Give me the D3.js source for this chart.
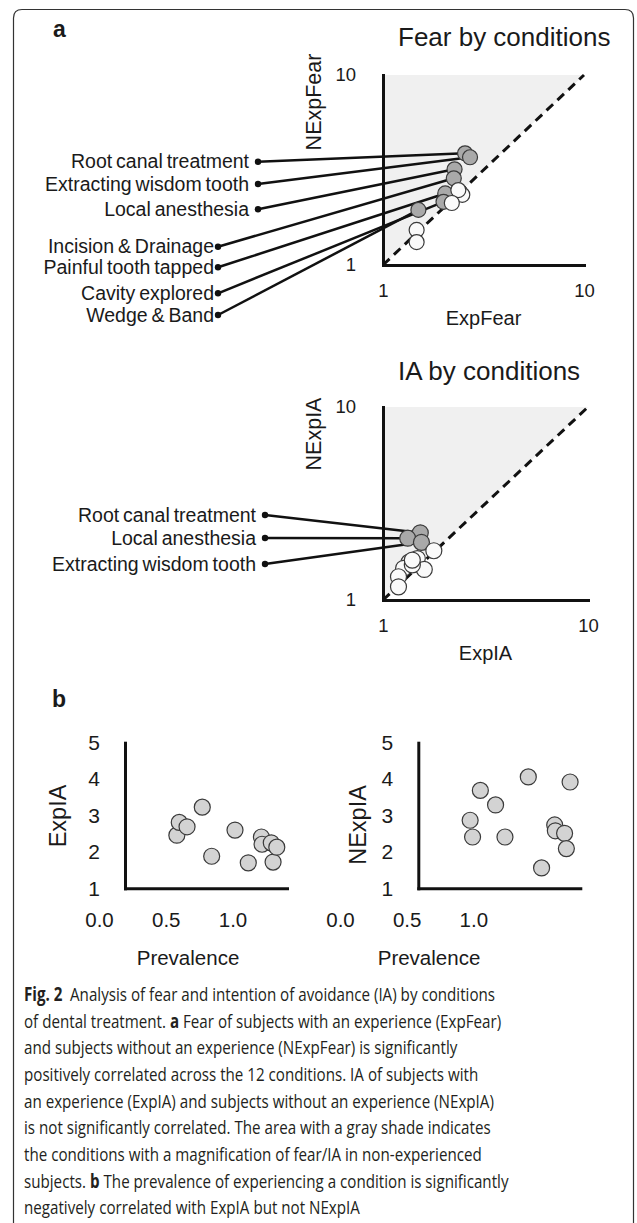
<!DOCTYPE html>
<html>
<head>
<meta charset="utf-8">
<script src="https://cdn.jsdelivr.net/npm/d3@7"></script>
<style>
  body { margin: 0; background: #fff; }
  svg text { font-family: "Liberation Sans", Arial, sans-serif; fill: #1a1a1a; }
  .caption text { font-family: "Open Sans", sans-serif; fill: #231f20; }
</style>
</head>
<body>
<svg id="fig" width="637" height="1223"></svg>
<script>
// --- data ---
// Fear by conditions: 12 conditions, the first 7 are the labelled (gray) ones
const fearLabels = ['Root canal treatment', 'Extracting wisdom tooth', 'Local anesthesia',
  'Incision & Drainage', 'Painful tooth tapped', 'Cavity explored', 'Wedge & Band'];
const expFear  = [2.56, 2.71, 2.27, 2.25, 2.04, 2.00, 1.50, 2.48, 2.37, 2.20, 1.47, 1.47];
const nexpFear = [3.87, 3.69, 3.19, 2.86, 2.38, 2.15, 1.95, 2.34, 2.48, 2.12, 1.53, 1.32];

// IA by conditions: first 3 are labelled (gray)
const iaLabels = ['Root canal treatment', 'Local anesthesia', 'Extracting wisdom tooth'];
const expIA  = [1.52, 1.32, 1.54, 1.77, 1.47, 1.34, 1.26, 1.59, 1.39, 1.39, 1.19, 1.19];
const nexpIA = [2.23, 2.09, 1.99, 1.80, 1.64, 1.57, 1.46, 1.44, 1.52, 1.61, 1.32, 1.17];

const logTicks = [1, 10];

// panel b: prevalence vs mean IA
const prevalence = [0.32, 0.335, 0.383, 0.477, 0.535, 0.679, 0.761, 0.842, 0.846, 0.903, 0.914, 0.937];
const expIAb  = [2.46, 2.81, 2.69, 3.23, 1.88, 2.60, 1.70, 2.41, 2.21, 2.25, 1.72, 2.13];
const nexpIAb = [2.87, 2.41, 3.69, 3.29, 2.41, 4.06, 1.56, 2.74, 2.58, 2.51, 2.09, 3.92];
const iaTicks = [1, 2, 3, 4, 5];
const prevTicks = [0, 0.5, 1];

const captionLines = [
  [['Fig. 2', true], ['\u2002Analysis of fear and intention of avoidance (IA) by conditions', false]],
  [['of dental treatment. ', false], ['a', true], [' Fear of subjects with an experience (ExpFear)', false]],
  [['and subjects without an experience (NExpFear) is significantly', false]],
  [['positively correlated across the 12 conditions. IA of subjects with', false]],
  [['an experience (ExpIA) and subjects without an experience (NExpIA)', false]],
  [['is not significantly correlated. The area with a gray shade indicates', false]],
  [['the conditions with a magnification of fear/IA in non-experienced', false]],
  [['subjects. ', false], ['b', true], [' The prevalence of experiencing a condition is significantly', false]],
  [['negatively correlated with ExpIA but not NExpIA', false]]
];

const svg = d3.select('#fig');
const ink = '#111';

// frame, open at the bottom
svg.append('path')
  .attr('d', 'M13.5,1223V18Q13.5,9.5 22,9.5H625Q633.5,9.5 633.5,18V1223')
  .attr('fill', 'none').attr('stroke', '#333').attr('stroke-width', 1.2);

svg.append('text').attr('x', 53).attr('y', 37).attr('font-size', 23).attr('font-weight', 'bold').text('a');
svg.append('text').attr('x', 52).attr('y', 707).attr('font-size', 23).attr('font-weight', 'bold').text('b');

function styleAxis(g, size) {
  g.select('.domain').attr('stroke', ink).attr('stroke-width', 3).attr('stroke-linecap', 'square');
  g.selectAll('text').attr('font-size', size).attr('fill', '#1a1a1a')
    .attr('font-family', '"Liberation Sans", Arial, sans-serif');
}

function logPanel(o) {
  const x = d3.scaleLog().domain([1, 10]).range([o.left, o.right]);
  const y = d3.scaleLog().domain([1, 10]).range([o.bottom, o.top]);
  const g = svg.append('g');

  // shaded half above the identity line
  g.append('path')
    .attr('d', d3.line()([[x(1), y(1)], [x(1), y(10)], [x(10), y(10)]]) + 'Z')
    .attr('fill', '#f0f0f0');
  g.append('line')
    .attr('x1', x(1)).attr('y1', y(1)).attr('x2', x(10)).attr('y2', y(10))
    .attr('stroke', ink).attr('stroke-width', 3).attr('stroke-dasharray', '9,6');

  g.append('g').attr('transform', `translate(0,${o.bottom})`)
    .call(d3.axisBottom(x).tickValues(logTicks).tickFormat(d3.format('d')).tickSize(0).tickPadding(19))
    .call(a => styleAxis(a, 18.5));
  g.append('g').attr('transform', `translate(${o.left},0)`)
    .call(d3.axisLeft(y).tickValues(logTicks).tickFormat(d3.format('d')).tickSize(0).tickPadding(27))
    .call(a => styleAxis(a, 18.5));

  g.append('text').attr('x', 398).attr('y', o.titleY).attr('font-size', 26).text(o.title);
  g.append('text').attr('x', (o.left + o.right) / 2).attr('y', o.bottom + 60)
    .attr('text-anchor', 'middle').attr('font-size', 20).text(o.xLabel);
  g.append('text').attr('transform', `translate(313,${o.top + 27}) rotate(-90)`)
    .attr('text-anchor', 'middle').attr('dy', '0.35em').attr('font-size', 21.5).text(o.yLabel);

  // leader lines from the condition names to the gray points
  o.labels.forEach((name, i) => {
    const d = o.dots[i];
    g.append('line')
      .attr('x1', d[0]).attr('y1', d[1]).attr('x2', x(o.xs[i])).attr('y2', y(o.ys[i]))
      .attr('stroke', ink).attr('stroke-width', 2.5);
    g.append('circle').attr('cx', d[0]).attr('cy', d[1]).attr('r', 3.2).attr('fill', ink);
    g.append('text').attr('x', d[0] - d[2]).attr('y', d[1]).attr('dy', '0.34em')
      .attr('text-anchor', 'end').attr('font-size', 19.5).attr('word-spacing', -1.5).text(name);
  });

  g.selectAll('.pt').data(o.xs.map((v, i) => [v, o.ys[i], i]))
    .join('circle')
    .attr('cx', d => x(d[0])).attr('cy', d => y(d[1])).attr('r', o.r)
    .attr('fill', d => d[2] < o.labels.length ? '#a9a9a9' : '#fafafa')
    .attr('stroke', '#3a3a3a').attr('stroke-width', 1.2);
}

logPanel({
  left: 383, right: 584, top: 75, bottom: 265, titleY: 46, r: 7.5,
  title: 'Fear by conditions', xLabel: 'ExpFear', yLabel: 'NExpFear',
  labels: fearLabels, xs: expFear, ys: nexpFear,
  // label anchor dot: x, y, gap to text
  dots: [[258, 161.7, 9], [258, 184, 9], [258, 209.3, 9],
         [218, 246.7, 4], [218, 267.3, 4], [218, 293.3, 4], [218, 315, 4]]
});

logPanel({
  left: 383, right: 588, top: 407, bottom: 600, titleY: 380, r: 8,
  title: 'IA by conditions', xLabel: 'ExpIA', yLabel: 'NExpIA',
  labels: iaLabels, xs: expIA, ys: nexpIA,
  dots: [[265, 515, 9], [265, 538, 9], [265, 564, 9]]
});

function prevPanel(o) {
  const x = d3.scaleLinear().domain([0, 1]).range([o.left, o.left + 162]);
  const y = d3.scaleLinear().domain([1, 5]).range([888.3, 742.7]);
  // the tick labels in the figure sit apart from the axis line
  const xl = d3.scaleLinear().domain([0, 1]).range(o.labelRange);
  const g = svg.append('g');

  g.append('g').attr('transform', 'translate(0,888.3)')
    .call(d3.axisBottom(x).tickValues([]).tickSize(0).tickSizeOuter(0))
    .call(a => styleAxis(a, 20));
  g.append('g').attr('transform', 'translate(0,888.3)')
    .call(d3.axisBottom(xl).tickValues(prevTicks).tickFormat(d3.format('.1f')).tickSize(0).tickPadding(24.5))
    .call(a => { a.select('.domain').remove(); styleAxis(a, 20.5); });
  g.append('g').attr('transform', `translate(${o.left},0)`)
    .call(d3.axisLeft(y).tickValues(iaTicks).tickFormat(d3.format('d')).tickSize(0).tickSizeOuter(0).tickPadding(25))
    .call(a => styleAxis(a, 21));

  g.append('text').attr('x', o.xLabelX).attr('y', 965).attr('text-anchor', 'middle')
    .attr('font-size', 20.5).text('Prevalence');
  g.append('text').attr('transform', `translate(${o.yLabelX},${o.yLabelY}) rotate(-90)`)
    .attr('text-anchor', 'middle').attr('dy', '0.35em').attr('font-size', 23.5).text(o.yLabel);

  g.selectAll('.pt').data(prevalence.map((p, i) => [p, o.ys[i]]))
    .join('circle')
    .attr('cx', d => x(d[0])).attr('cy', d => y(d[1])).attr('r', 8)
    .attr('fill', '#d3d3d3').attr('stroke', '#3a3a3a').attr('stroke-width', 1.2);
}

prevPanel({ left: 125, labelRange: [99, 232.5], xLabelX: 188, yLabelX: 58, yLabelY: 816, yLabel: 'ExpIA', ys: expIAb });
prevPanel({ left: 418.3, labelRange: [340, 473.3], xLabelX: 429, yLabelX: 358, yLabelY: 825, yLabel: 'NExpIA', ys: nexpIAb });

// caption, squeezed horizontally to the narrow face used in the figure
const cap = svg.append('g').attr('class', 'caption');
const capText = cap.selectAll('text').data(captionLines).join('text')
  .attr('x', 0).attr('y', (d, i) => 1001 + i * 26.67).attr('font-size', 18.7);
capText.selectAll('tspan').data(d => d).join('tspan')
  .attr('font-weight', d => d[1] ? 'bold' : null).text(d => d[0]);
const w0 = capText.node().getComputedTextLength();
cap.attr('transform', `translate(24,0) scale(${471 / w0},1)`);
</script>
</body>
</html>
